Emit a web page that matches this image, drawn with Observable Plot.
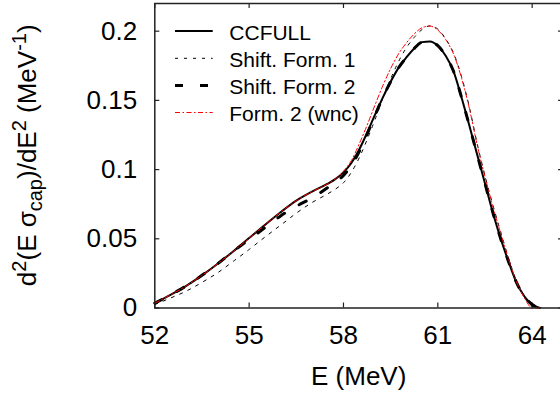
<!DOCTYPE html>
<html><head><meta charset="utf-8">
<script src="https://cdn.jsdelivr.net/npm/d3@7"></script>
<script src="https://cdn.jsdelivr.net/npm/@observablehq/plot@0.6"></script>
<style>body{margin:0;background:#fff} svg{display:block}</style>
</head><body><div id="chart"></div>
<script>
const energy = [52, 52.5, 53, 53.5, 54, 54.5, 55, 55.5, 56, 56.5, 57, 57.5, 57.75, 58, 58.25, 58.5, 58.75, 59, 59.25, 59.5, 59.75, 60, 60.25, 60.5, 60.75, 61, 61.25, 61.5, 61.75, 62, 62.25, 62.5, 62.75, 63, 63.25, 63.5, 63.75, 64, 64.25];
const ccfull = [0.0035, 0.0095, 0.016, 0.0236, 0.032, 0.041, 0.0505, 0.06, 0.0692, 0.0776, 0.0841, 0.0898, 0.0933, 0.098, 0.1048, 0.1145, 0.1265, 0.1395, 0.152, 0.1635, 0.1735, 0.181, 0.1875, 0.1921, 0.1926, 0.1895, 0.1822, 0.171, 0.1525, 0.132, 0.111, 0.09, 0.069, 0.05, 0.0335, 0.0185, 0.0085, 0.0025, 0];
const shiftForm1 = [0.0025, 0.0072, 0.0122, 0.0185, 0.0255, 0.0338, 0.0423, 0.0512, 0.0598, 0.0685, 0.0762, 0.0825, 0.086, 0.0905, 0.098, 0.1085, 0.1215, 0.136, 0.1515, 0.1655, 0.178, 0.188, 0.1955, 0.2012, 0.2038, 0.2015, 0.1945, 0.1842, 0.1675, 0.1455, 0.119, 0.0955, 0.0745, 0.055, 0.036, 0.0195, 0.0078, 0.001, 0];
const shiftForm2 = [0.0035, 0.0095, 0.016, 0.0236, 0.032, 0.041, 0.0495, 0.058, 0.0665, 0.0735, 0.0795, 0.087, 0.091, 0.0958, 0.103, 0.113, 0.1255, 0.139, 0.152, 0.1635, 0.1735, 0.181, 0.1875, 0.1921, 0.1926, 0.1895, 0.1822, 0.171, 0.1525, 0.132, 0.111, 0.09, 0.069, 0.05, 0.0335, 0.0185, 0.0085, 0.0025, 0];
const form2wnc = [0.0035, 0.0095, 0.016, 0.0236, 0.032, 0.041, 0.0505, 0.06, 0.0692, 0.0776, 0.0841, 0.0898, 0.0935, 0.0988, 0.1065, 0.1185, 0.132, 0.1465, 0.1605, 0.173, 0.1835, 0.1915, 0.198, 0.2025, 0.2037, 0.2008, 0.194, 0.1835, 0.1665, 0.1445, 0.118, 0.095, 0.0735, 0.054, 0.0355, 0.019, 0.0075, 0, 0];
const xTicks = [52, 55, 58, 61, 64];
const yTicks = [0, 0.05, 0.1, 0.15, 0.2];
const seriesNames = ["CCFULL", "Shift. Form. 1", "Shift. Form. 2", "Form. 2 (wnc)"];

const W = 560, H = 394, mL = 154.3, mR = -3.1, mT = 3, mB = 86.5;
const plotW = W - mL - mR, plotH = H - mT - mB;
const tickLen = 5;
const styles = [
  {stroke: "#000", strokeWidth: 2},
  {stroke: "#000", strokeWidth: 1, strokeDasharray: "3,6"},
  {stroke: "#000", strokeWidth: 3, strokeDasharray: "8,17"},
  {stroke: "#f00", strokeWidth: 1, strokeDasharray: "5,2.5,1.5,2.5"}
];
const seriesValues = [ccfull, shiftForm1, shiftForm2, form2wnc];
const tables = seriesValues.map(vals => energy.map((e, i) => ({E: e, v: vals[i]})));

const plot = Plot.plot({
  width: W, height: H, marginLeft: mL, marginRight: mR, marginTop: mT, marginBottom: mB,
  style: {fontFamily: "'Liberation Sans', Arial, sans-serif", fontSize: "26px", background: "#fff", color: "#000"},
  x: {domain: [52, 65]},
  y: {domain: [0, 0.22]},
  marks: [
    Plot.tickX(xTicks, {x: d => d, insetTop: plotH - tickLen, stroke: "#222", strokeWidth: 1.2}),
    Plot.tickX(xTicks, {x: d => d, insetBottom: plotH - tickLen, stroke: "#222", strokeWidth: 1.2}),
    Plot.tickY(yTicks, {y: d => d, insetRight: plotW - tickLen, stroke: "#222", strokeWidth: 1.2}),
    Plot.tickY(yTicks, {y: d => d, insetLeft: plotW - tickLen, stroke: "#222", strokeWidth: 1.2}),
    Plot.axisX(xTicks, {tickSize: 0, tickPadding: 18, label: null, fontSize: 26, tickFormat: d => String(d)}),
    Plot.axisY(yTicks, {tickSize: 0, tickPadding: 17.6, label: null, fontSize: 26, tickFormat: d => String(d)}),
    ...tables.map((t, i) => Plot.line(t, {x: "E", y: "v", curve: "monotone-x", ...styles[i]})),
    Plot.frame({stroke: "#222", strokeWidth: 1.5})
  ]
});
document.getElementById("chart").appendChild(plot);

const svg = d3.select(plot);
const font = "'Liberation Sans', Arial, sans-serif";
// y label
const yl = svg.append("text")
  .attr("transform", `translate(36,${(mT + H - mB) / 2}) rotate(-90)`)
  .attr("text-anchor", "middle").attr("font-size", 26).attr("font-family", font).attr("fill", "#000");
const parts = [["d",0,26],["2",-10,20],["(E σ",10,26],["cap",6,20],[")/dE",-6,26],["2",-10,20],["\u00a0(MeV",10,26],["-1",-10,20],[")",10,26]];
parts.forEach(([t, dy, fs]) => yl.append("tspan").attr("dy", dy).attr("font-size", fs).text(t));
// x label
svg.append("text").attr("x", mL + plotW / 2).attr("y", 385).attr("text-anchor", "middle")
  .attr("font-size", 26).attr("font-family", font).attr("fill", "#000").text("E (MeV)");
// legend
const rowY = [31, 58.3, 85.5, 112.5];
seriesNames.forEach((name, i) => {
  const s = styles[i];
  svg.append("line").attr("x1", 175).attr("x2", 212.7).attr("y1", rowY[i]).attr("y2", rowY[i])
    .attr("stroke", s.stroke).attr("stroke-width", s.strokeWidth).attr("stroke-dasharray", s.strokeDasharray || null);
  svg.append("text").attr("x", 229.3).attr("y", rowY[i] + 8.5).attr("font-size", 21).attr("text-anchor", "start")
    .attr("font-family", font).attr("fill", "#000").text(name);
});
</script></body></html>
